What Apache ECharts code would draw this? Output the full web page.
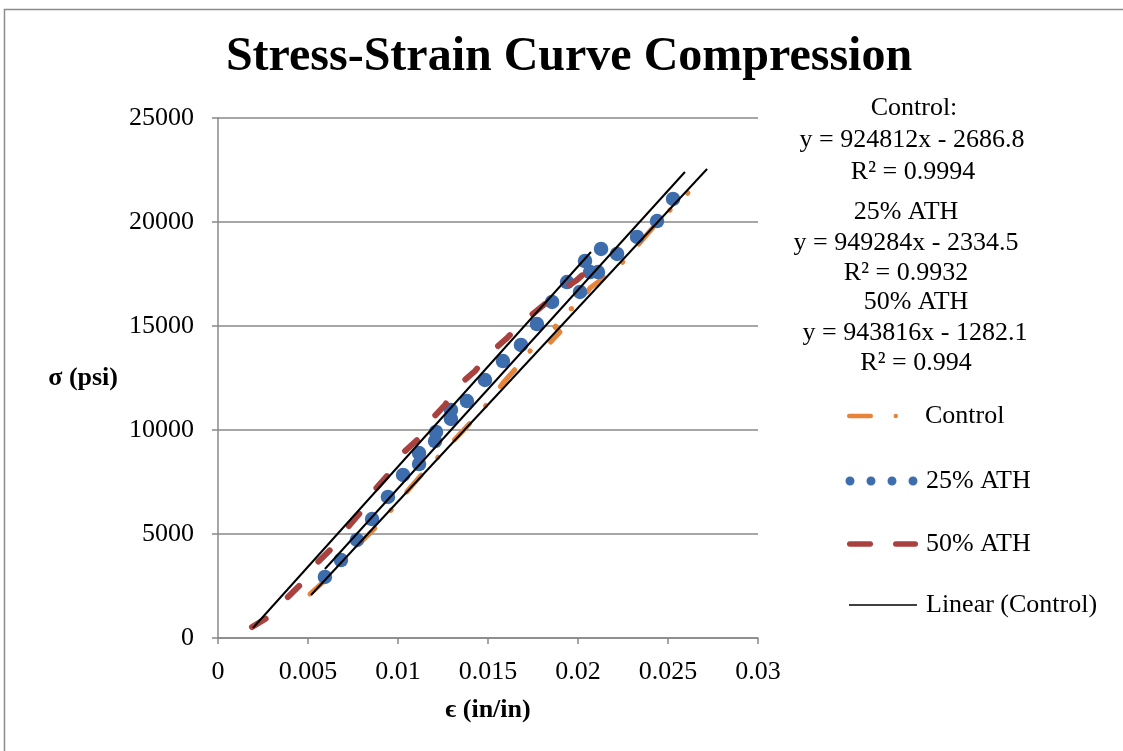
<!DOCTYPE html>
<html><head><meta charset="utf-8">
<script src="https://cdn.jsdelivr.net/npm/echarts@6/dist/echarts.min.js"></script>
<style>html,body{margin:0;padding:0;background:#fff}#c{width:1123px;height:751px}</style>
</head><body><div id="c"></div>
<script>
// ---- data ----
const xTickLabels = ['0', '0.005', '0.01', '0.015', '0.02', '0.025', '0.03'];
const yTickLabels = ['0', '5000', '10000', '15000', '20000', '25000'];

const seriesNames = ['Control', '25% ATH', '50% ATH'];

const controlX = [0.00511, 0.00578, 0.00678, 0.00778, 0.00878, 0.00972, 0.01067, 0.01139, 0.01239, 0.01328, 0.01411, 0.01500, 0.01583, 0.01667, 0.01756, 0.01833, 0.01900, 0.01872, 0.01939, 0.01994, 0.02067, 0.02111, 0.02161, 0.02244, 0.02328, 0.02428, 0.02511, 0.02611];
const controlY = [2115, 2644, 3462, 4471, 5337, 6250, 7212, 7933, 8846, 9663, 10433, 11298, 12260, 13077, 14038, 14087, 14712, 14952, 15769, 15913, 16827, 17115, 17452, 18029, 18846, 19856, 20577, 21394];

const ath25X = [0.00594, 0.00683, 0.00772, 0.00856, 0.00944, 0.01028, 0.01117, 0.01117, 0.01206, 0.01211, 0.01294, 0.01294, 0.01383, 0.01483, 0.01583, 0.01683, 0.01772, 0.01856, 0.01939, 0.02011, 0.02039, 0.02067, 0.02111, 0.02128, 0.02217, 0.02328, 0.02439, 0.02528];
const ath25Y = [2933, 3750, 4712, 5721, 6779, 7837, 8365, 8894, 9471, 9904, 10529, 10962, 11394, 12404, 13317, 14087, 15096, 16154, 17115, 16635, 18125, 17596, 17596, 18702, 18462, 19279, 20048, 21106];

const ath50X = [0.00189, 0.00289, 0.00383, 0.00467, 0.00550, 0.00628, 0.00717, 0.00789, 0.00861, 0.00939, 0.01022, 0.01106, 0.01178, 0.01261, 0.01333, 0.01428, 0.01511, 0.01606, 0.01694, 0.01789, 0.01889, 0.01994, 0.02067];
const ath50Y = [529, 1058, 1923, 2644, 3606, 4279, 5288, 6010, 7019, 7788, 8846, 9519, 10433, 11202, 12115, 12837, 13702, 14423, 15192, 15865, 16587, 17212, 17788];

// linear trendline end points (Excel trendlines)
const trendNames = ['Linear (Control)', 'Linear (25% ATH)', 'Linear (50% ATH)'];
const trendX = [[0.00517, 0.02717], [0.00594, 0.02594], [0.00194, 0.02072]];
const trendY = [[2067, 22548], [3317, 22404], [481, 18558]];

const equationLines = ['Control:', 'y = 924812x - 2686.8', 'R² = 0.9994', '25% ATH', 'y = 949284x - 2334.5', 'R² = 0.9932', '50% ATH', 'y = 943816x - 1282.1', 'R² = 0.994'];

// ---- layout / style ----
const FONT = "'Liberation Serif', 'Times New Roman', serif";
const COLORS = ['#E6843A', '#3D6DAD', '#A9423F'];
const GRAY = '#888888';
const eqPos = [[914,108],[912,140],[913,172],[906,212],[906,243],[906,273],[916,302],[915,333],[916,363]];

function zip(xs, ys) { return xs.map((x, i) => [x, ys[i]]); }

const chart = echarts.init(document.getElementById('c'), null, {renderer: 'canvas'});

const legendCommon = {
  orient: 'vertical', padding: 0, selectedMode: false, symbolKeepAspect: true,
  itemStyle: {borderWidth: 0},
  textStyle: {fontFamily: FONT, fontSize: 26, color: '#000', lineHeight: 26}
};
const iconControl = 'path://M2.25 0 H23.75 A2.25 2.25 0 0 1 23.75 4.5 H2.25 A2.25 2.25 0 0 1 2.25 0 Z M46.5 2.25 A2.25 2.25 0 1 0 51 2.25 A2.25 2.25 0 1 0 46.5 2.25 Z';
const icon25 = 'path://M0 4.5 A4.5 4.5 0 1 0 9 4.5 A4.5 4.5 0 1 0 0 4.5 Z M21 4.5 A4.5 4.5 0 1 0 30 4.5 A4.5 4.5 0 1 0 21 4.5 Z M42 4.5 A4.5 4.5 0 1 0 51 4.5 A4.5 4.5 0 1 0 42 4.5 Z M63 4.5 A4.5 4.5 0 1 0 72 4.5 A4.5 4.5 0 1 0 63 4.5 Z';
const icon50 = 'path://M2.75 0 H23.25 A2.75 2.75 0 0 1 23.25 5.5 H2.75 A2.75 2.75 0 0 1 2.75 0 Z M48.75 0 H68.25 A2.75 2.75 0 0 1 68.25 5.5 H48.75 A2.75 2.75 0 0 1 48.75 0 Z';
const iconLin = 'path://M0 0 H68 V1.6 H0 Z';

const option = {
  animation: false,
  backgroundColor: '#ffffff',
  title: {
    text: 'Stress-Strain Curve Compression',
    left: 569, top: 34, textAlign: 'center', padding: 0,
    textStyle: {fontFamily: FONT, fontSize: 48, fontWeight: 'bold', color: '#000', lineHeight: 48}
  },
  legend: [
    Object.assign({}, legendCommon, {left: 847, top: 403, itemWidth: 95, itemHeight: 4.5,
      data: [{name: seriesNames[0], icon: iconControl}]}),
    Object.assign({}, legendCommon, {left: 845.5, top: 468, itemWidth: 79, itemHeight: 9,
      data: [{name: seriesNames[1], icon: icon25}]}),
    Object.assign({}, legendCommon, {left: 847, top: 531, itemWidth: 77, itemHeight: 5.5,
      data: [{name: seriesNames[2], icon: icon50}]}),
    Object.assign({}, legendCommon, {left: 849, top: 592, itemWidth: 76, itemHeight: 1.6,
      data: [{name: trendNames[0], icon: iconLin}]})
  ],
  grid: {left: 218, top: 118, width: 540, height: 520, containLabel: false},
  xAxis: {
    type: 'value', min: 0, max: 0.03, interval: 0.005,
    name: 'ϵ (in/in)', nameLocation: 'middle', nameGap: 59,
    nameTextStyle: {fontFamily: FONT, fontSize: 26, fontWeight: 'bold', color: '#000', lineHeight: 26},
    axisLine: {show: true, lineStyle: {color: GRAY, width: 1.5}},
    axisTick: {show: true, inside: false, length: 6, lineStyle: {color: GRAY, width: 1.5}},
    axisLabel: {margin: 21, fontFamily: FONT, fontSize: 26, color: '#000', lineHeight: 26,
      formatter: v => xTickLabels[Math.round(v / 0.005)]},
    splitLine: {show: false}
  },
  yAxis: {
    type: 'value', min: 0, max: 25000, interval: 5000,
    name: 'σ (psi)', nameLocation: 'middle', nameGap: 100, nameRotate: 0,
    nameTextStyle: {fontFamily: FONT, fontSize: 26, fontWeight: 'bold', color: '#000', lineHeight: 26},
    axisLine: {show: true, lineStyle: {color: GRAY, width: 1.5}},
    axisTick: {show: true, inside: false, length: 6, lineStyle: {color: GRAY, width: 1.5}},
    axisLabel: {margin: 24, fontFamily: FONT, fontSize: 26, color: '#000', lineHeight: 26,
      formatter: v => yTickLabels[Math.round(v / 5000)]},
    splitLine: {show: true, lineStyle: {color: GRAY, width: 1.5}}
  },
  series: [
    {
      name: seriesNames[0], type: 'line', data: zip(controlX, controlY), symbol: 'none',
      color: COLORS[0], z: 2,
      lineStyle: {color: COLORS[0], width: 5, type: [22, 24, 0.5, 24], cap: 'round', join: 'round'}
    },
    {
      name: seriesNames[1], type: 'scatter', data: zip(ath25X, ath25Y), symbol: 'circle', symbolSize: 14.5,
      color: COLORS[1], z: 3, itemStyle: {color: COLORS[1], borderWidth: 0, opacity: 1}
    },
    {
      name: seriesNames[2], type: 'line', data: zip(ath50X, ath50Y), symbol: 'none',
      color: COLORS[2], z: 4,
      lineStyle: {color: COLORS[2], width: 6, type: [16, 31], cap: 'round', join: 'round'}
    }
  ].concat(trendNames.map((n, i) => ({
    name: n, type: 'line', data: zip(trendX[i], trendY[i]), symbol: 'none', color: '#000', z: 5, silent: true,
    lineStyle: {color: '#000', width: 2}
  }))),
  graphic: [
    {type: 'rect', silent: true, z: -10, shape: {x: 4.5, y: 9.5, width: 1300, height: 900},
      style: {fill: 'none', stroke: '#8c8c8c', lineWidth: 1.5}}
  ].concat(equationLines.map((t, i) => ({
    type: 'text', silent: true, x: eqPos[i][0], y: eqPos[i][1],
    style: {text: t, fill: '#000', font: '26px ' + FONT, textAlign: 'center', textVerticalAlign: 'middle'}
  })))
};
chart.setOption(option);
</script>
</body></html>
